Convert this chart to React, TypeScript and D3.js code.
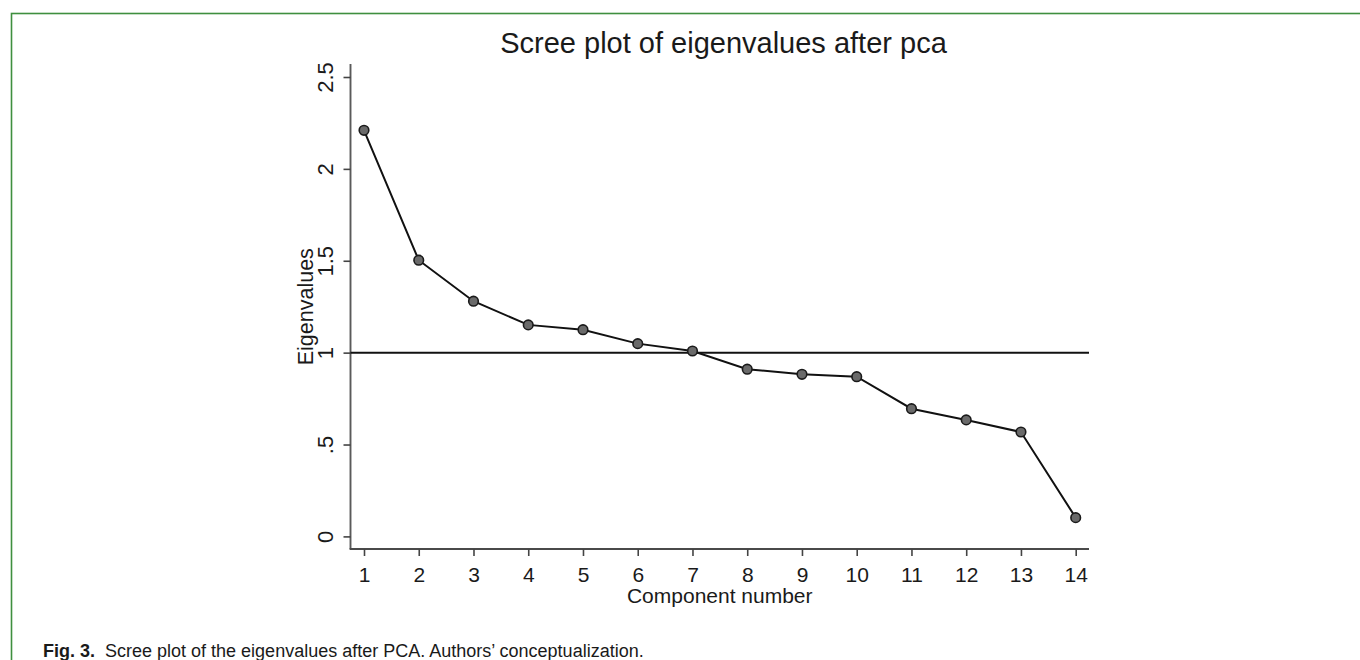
import React, { useEffect, useRef } from "react";
import * as d3 from "d3";

const components: number[] = [1, 2, 3, 4, 5, 6, 7, 8, 9, 10, 11, 12, 13, 14];
const eigenvalues: number[] = [2.21, 1.503, 1.28, 1.151, 1.125, 1.049, 1.009, 0.91, 0.882, 0.869, 0.695, 0.634, 0.568, 0.102];
const yTickValues: number[] = [0, 0.5, 1, 1.5, 2, 2.5];
const yTickLabels: string[] = ["0", ".5", "1", "1.5", "2", "2.5"];
const referenceValue = 1;
const titleText = "Scree plot of eigenvalues after pca";
const xLabelText = "Component number";
const yLabelText = "Eigenvalues";
const captionBold = "Fig. 3.";
const captionText = "Scree plot of the eigenvalues after PCA. Authors’ conceptualization.";

const FONT = "'Liberation Sans', Arial, Helvetica, sans-serif";

export default function App() {
  const ref = useRef<SVGSVGElement | null>(null);

  useEffect(() => {
    const svg = d3.select(ref.current);
    svg.selectAll("*").remove();

    const W = 1360, H = 660;
    const x = d3.scaleLinear().domain([1, 14]).range([364, 1075.7]);
    const y = d3.scaleLinear().domain([0, 2.5]).range([536.4, 77]);
    const axisX = 350.5;
    const axisY = 549;
    const plotRight = 1089;
    const plotTop = 64;

    svg.append("rect").attr("width", W).attr("height", H).attr("fill", "#ffffff");

    // frame
    svg.append("rect")
      .attr("x", 11.5).attr("y", 13.5)
      .attr("width", W + 50).attr("height", H + 50)
      .attr("fill", "none")
      .attr("stroke", "#3f8f3f")
      .attr("stroke-width", 1.6);

    // title
    svg.append("text")
      .attr("x", 723.5).attr("y", 53)
      .attr("text-anchor", "middle")
      .attr("font-family", FONT)
      .attr("font-size", 29)
      .attr("fill", "#1a1a1a")
      .text(titleText);

    // axes lines
    svg.append("line")
      .attr("x1", axisX).attr("x2", axisX)
      .attr("y1", plotTop).attr("y2", axisY)
      .attr("stroke", "#5a5a5a").attr("stroke-width", 1.9);
    svg.append("line")
      .attr("x1", axisX - 0.9).attr("x2", plotRight)
      .attr("y1", axisY).attr("y2", axisY)
      .attr("stroke", "#4a4a4a").attr("stroke-width", 1.9);

    // y axis
    const yAxis = d3.axisLeft(y)
      .tickValues(yTickValues)
      .tickSize(7)
      .tickFormat((d, i) => yTickLabels[i]);
    const gy = svg.append("g").attr("transform", `translate(${axisX},0)`).call(yAxis);
    gy.select(".domain").remove();
    gy.selectAll(".tick line").attr("stroke", "#444").attr("stroke-width", 1.6);
    gy.selectAll(".tick text")
      .attr("x", null).attr("dy", null)
      .attr("text-anchor", "middle")
      .attr("transform", `translate(${333 - axisX},0) rotate(-90)`)
      .attr("font-family", FONT)
      .attr("font-size", 22)
      .attr("fill", "#1a1a1a");

    // x axis
    const xAxis = d3.axisBottom(x)
      .tickValues(components)
      .tickSize(7)
      .tickPadding(11)
      .tickFormat((d) => String(d));
    const gx = svg.append("g").attr("transform", `translate(0,${axisY})`).call(xAxis);
    gx.select(".domain").remove();
    gx.selectAll(".tick line").attr("stroke", "#444").attr("stroke-width", 1.6);
    gx.selectAll(".tick text")
      .attr("font-family", FONT)
      .attr("font-size", 21)
      .attr("fill", "#1a1a1a");

    // axis titles
    svg.append("text")
      .attr("transform", `translate(313,${(y(0) + y(2.5)) / 2}) rotate(-90)`)
      .attr("text-anchor", "middle")
      .attr("font-family", FONT)
      .attr("font-size", 21.5)
      .attr("fill", "#1a1a1a")
      .text(yLabelText);
    svg.append("text")
      .attr("x", (axisX + plotRight) / 2).attr("y", 603)
      .attr("text-anchor", "middle")
      .attr("font-family", FONT)
      .attr("font-size", 21)
      .attr("fill", "#1a1a1a")
      .text(xLabelText);

    // reference line
    svg.append("line")
      .attr("x1", axisX).attr("x2", plotRight)
      .attr("y1", y(referenceValue)).attr("y2", y(referenceValue))
      .attr("stroke", "#111").attr("stroke-width", 2);

    // series line
    const data = components.map((c, i) => ({ c, v: eigenvalues[i] }));
    const line = d3.line<{ c: number; v: number }>().x((d) => x(d.c)).y((d) => y(d.v));
    svg.append("path")
      .datum(data)
      .attr("d", line)
      .attr("fill", "none")
      .attr("stroke", "#111")
      .attr("stroke-width", 2);

    svg.append("g")
      .selectAll("circle")
      .data(data)
      .join("circle")
      .attr("cx", (d) => x(d.c))
      .attr("cy", (d) => y(d.v))
      .attr("r", 4.8)
      .attr("fill", "#6a6a6a")
      .attr("stroke", "#1a1a1a")
      .attr("stroke-width", 1.6);

    // caption
    const cap = svg.append("text")
      .attr("x", 43).attr("y", 657)
      .attr("font-family", FONT)
      .attr("font-size", 18)
      .attr("fill", "#1a1a1a");
    cap.append("tspan").attr("font-weight", "bold").text(captionBold);
    cap.append("tspan").attr("dx", 10).text(captionText);
  }, []);

  return (
    <svg
      ref={ref}
      width={1360}
      height={660}
      style={{ position: "absolute", left: 0, top: 0, display: "block" }}
    />
  );
}
